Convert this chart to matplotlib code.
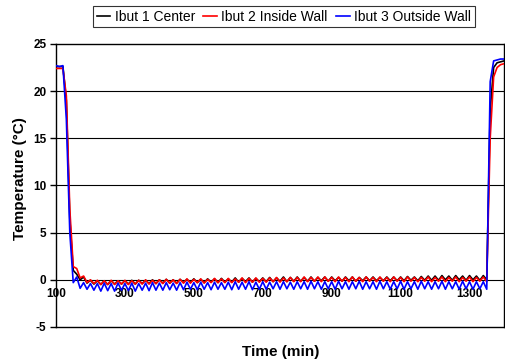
import matplotlib
matplotlib.use("Agg")
import matplotlib.pyplot as plt

plt.rcParams["font.family"] = ["Liberation Sans", "DejaVu Sans"]

# sampling grid (min)
minutes = list(range(100, 1410, 10))

# Ibut 1 Center
center = [
    22.6, 22.6, 22.6, 19.0, 6.5, 1.0, 0.6, 0.0, 0.3, -0.35,
    -0.05, -0.45, -0.1, -0.5, -0.1, -0.5, -0.1, -0.45, -0.1, -0.45,
    -0.1, -0.45, -0.05, -0.45, -0.05, -0.4, -0.05, -0.4, 0.0, -0.4,
    0.0, -0.35, 0.05, -0.35, 0.0, -0.35, 0.05, -0.3, 0.05, -0.3,
    0.1, -0.3, 0.05, -0.3, 0.1, -0.25, 0.1, -0.3, 0.15, -0.25,
    0.1, -0.25, 0.2, -0.25, 0.15, -0.2, 0.2, -0.25, 0.15, -0.2,
    0.2, -0.2, 0.25, -0.2, 0.2, -0.15, 0.3, -0.2, 0.25, -0.15,
    0.3, -0.15, 0.25, -0.15, 0.3, -0.15, 0.25, -0.1, 0.3, -0.15,
    0.3, -0.1, 0.25, -0.15, 0.3, -0.1, 0.3, -0.15, 0.25, -0.1,
    0.3, -0.1, 0.3, -0.1, 0.25, -0.1, 0.3, -0.1, 0.3, -0.1,
    0.3, -0.1, 0.35, -0.05, 0.3, -0.1, 0.35, -0.05, 0.4, -0.05,
    0.4, -0.05, 0.45, 0.0, 0.4, -0.05, 0.45, 0.0, 0.4, -0.05,
    0.45, 0.0, 0.4, -0.05, 0.45, 0.0, 18.0, 22.5, 23.0, 23.1,
    23.2,
]

# Ibut 2 Inside Wall
inside = [
    22.4, 22.4, 22.4, 19.5, 7.5, 1.4, 1.2, 0.2, 0.4, -0.3,
    0.0, -0.4, -0.05, -0.5, -0.1, -0.5, -0.05, -0.5, -0.1, -0.45,
    -0.05, -0.5, -0.1, -0.45, -0.05, -0.45, 0.0, -0.45, -0.05, -0.4,
    0.0, -0.4, 0.05, -0.35, 0.0, -0.4, 0.05, -0.35, 0.1, -0.35,
    0.05, -0.3, 0.1, -0.35, 0.05, -0.3, 0.15, -0.3, 0.1, -0.3,
    0.15, -0.3, 0.1, -0.25, 0.2, -0.3, 0.15, -0.25, 0.2, -0.25,
    0.15, -0.25, 0.2, -0.2, 0.25, -0.25, 0.2, -0.2, 0.25, -0.2,
    0.25, -0.2, 0.3, -0.2, 0.25, -0.15, 0.3, -0.2, 0.3, -0.15,
    0.25, -0.2, 0.3, -0.15, 0.25, -0.2, 0.3, -0.15, 0.25, -0.2,
    0.3, -0.15, 0.25, -0.2, 0.3, -0.15, 0.25, -0.2, 0.3, -0.15,
    0.25, -0.2, 0.3, -0.15, 0.25, -0.2, 0.25, -0.15, 0.3, -0.2,
    0.25, -0.15, 0.3, -0.2, 0.25, -0.15, 0.3, -0.2, 0.25, -0.15,
    0.3, -0.2, 0.25, -0.15, 0.3, -0.2, 15.0, 21.5, 22.5, 22.8,
    22.9,
]

# Ibut 3 Outside Wall
outside = [
    22.7, 22.6, 22.7, 17.0, 5.0, -0.3, 0.3, -0.9, -0.3, -1.0,
    -0.4, -1.1, -0.4, -1.2, -0.35, -1.15, -0.4, -1.2, -0.35, -1.1,
    -0.4, -1.15, -0.35, -1.2, -0.4, -1.1, -0.35, -1.15, -0.3, -1.1,
    -0.35, -1.1, -0.3, -1.05, -0.35, -1.1, -0.3, -1.05, -0.25, -1.0,
    -0.3, -1.05, -0.25, -1.0, -0.3, -1.05, -0.25, -1.0, -0.3, -1.0,
    -0.25, -1.05, -0.2, -1.0, -0.25, -1.0, -0.2, -1.05, -0.25, -1.0,
    -0.2, -1.0, -0.25, -0.95, -0.2, -1.0, -0.2, -0.95, -0.25, -1.0,
    -0.2, -0.95, -0.2, -1.0, -0.15, -0.95, -0.2, -1.0, -0.2, -0.95,
    -0.2, -1.0, -0.15, -0.95, -0.2, -1.0, -0.2, -0.95, -0.15, -1.0,
    -0.2, -0.95, -0.2, -1.0, -0.15, -0.95, -0.2, -1.0, -0.2, -0.95,
    -0.15, -1.0, -0.2, -0.95, -0.2, -1.0, -0.15, -0.95, -0.2, -1.0,
    -0.2, -0.95, -0.15, -1.0, -0.2, -0.95, -0.2, -1.0, -0.15, -0.95,
    -0.2, -1.0, -0.2, -0.95, -0.2, -1.0, 21.0, 23.2, 23.3, 23.4,
    23.4,
]

x_ticks = [100, 300, 500, 700, 900, 1100, 1300]
y_ticks = [-5, 0, 5, 10, 15, 20, 25]

fig = plt.figure(figsize=(5.06, 3.6), dpi=100)
ax = fig.add_axes([0.1107, 0.0917, 0.8853, 0.7863])

# horizontal grid lines
for y in [5, 10, 15, 20]:
    ax.axhline(y, color="black", lw=0.8, zorder=1)

ax.plot(minutes, center, color="black", lw=1.2, label="Ibut 1 Center", zorder=3)
ax.plot(minutes, inside, color="#ff0000", lw=1.2, label="Ibut 2 Inside Wall", zorder=4)
ax.plot(minutes, outside, color="#0000ff", lw=1.2, label="Ibut 3 Outside Wall", zorder=5)

ax.set_xlim(100, 1400)
ax.set_ylim(-5, 25)

# x axis crosses at 0, plot area keeps its frame
ax.spines["bottom"].set_position(("data", 0))
ax.spines["bottom"].set_zorder(2)
ax.plot([0, 1], [0, 0], transform=ax.transAxes, color="black", lw=1.0, clip_on=False)
for s in ["top", "right", "left"]:
    ax.spines[s].set_linewidth(1.0)

ax.set_xticks(x_ticks)
ax.set_xticklabels([str(v) for v in x_ticks], fontweight="bold", fontsize=8.5)
ax.tick_params(axis="x", length=0, pad=6)
ax.set_yticks(y_ticks)
ax.set_yticklabels([str(v) for v in y_ticks], fontweight="bold", fontsize=8.5)
ax.tick_params(axis="y", direction="out", length=4, width=1.0, pad=3)

fig.text(0.040, 0.505, "Temperature (\u00b0C)", ha="center", va="center", rotation=90,
         fontweight="bold", fontsize=11)
fig.text(0.555, 0.022, "Time (min)", ha="center", va="center", fontweight="bold", fontsize=11)

leg = fig.legend(loc="center", bbox_to_anchor=(0.561, 0.953), ncol=3, fontsize=10,
                 frameon=True, fancybox=False, edgecolor="black", handlelength=1.0,
                 handletextpad=0.3, columnspacing=0.6, borderpad=0.25)
leg.get_frame().set_linewidth(0.8)

fig.savefig("out.png", dpi=100)
